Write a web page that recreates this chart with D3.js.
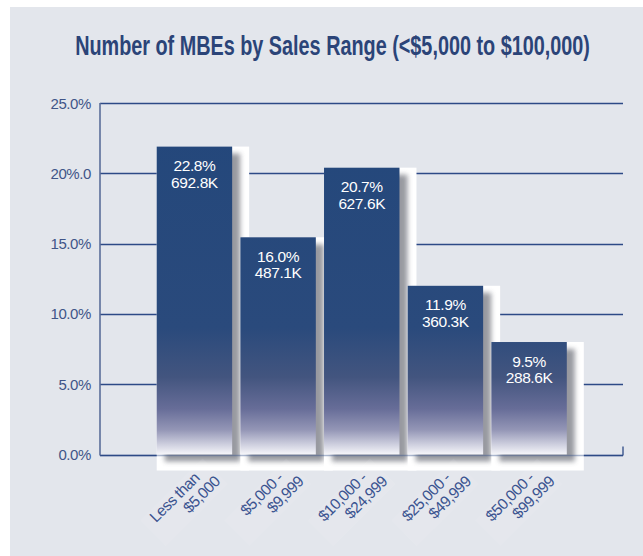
<!DOCTYPE html>
<html>
<head>
<meta charset="utf-8">
<script src="https://cdn.jsdelivr.net/npm/d3@7"></script>
<style>
  html, body { margin: 0; padding: 0; background: #ffffff; }
  svg { display: block; }
  text { font-family: "Liberation Sans", Arial, sans-serif; }
</style>
</head>
<body>
<div id="chart"></div>
<script>
// ---- data ----
const title = "Number of MBEs by Sales Range (<$5,000 to $100,000)";
const categoryLine1 = ["Less than", "$5,000 -", "$10,000 -", "$25,000 -", "$50,000 -"];
const categoryLine2 = ["$5,000", "$9,999", "$24,999", "$49,999", "$99,999"];
const barHeights = [21.9, 15.45, 20.4, 12.0, 8.0];          // drawn bar heights (%)
const pctLabels = ["22.8%", "16.0%", "20.7%", "11.9%", "9.5%"];
const countLabels = ["692.8K", "487.1K", "627.6K", "360.3K", "288.6K"];
const yTickValues = [0, 5, 10, 15, 20, 25];
const yTickLabels = ["0.0%", "5.0%", "10.0%", "15.0%", "20%.0", "25.0%"];

// ---- layout ----
const W = 643, H = 556;
const svg = d3.select("#chart").append("svg").attr("width", W).attr("height", H);
const defs = svg.append("defs");

svg.append("rect").attr("x", 10).attr("y", 7).attr("width", W - 10).attr("height", H - 7)
  .attr("fill", "#e3e6ec");

const y = d3.scaleLinear().domain([0, 25]).range([454.5, 103]);
const x = d3.scaleBand().domain(d3.range(barHeights.length)).range([156.7, 566.8])
  .paddingInner(0.098).paddingOuter(0);
const axisX = 100, gridEnd = 623;

// gradient (absolute, so fade lives near the base)
const grad = defs.append("linearGradient").attr("id", "barGrad")
  .attr("gradientUnits", "userSpaceOnUse").attr("x1", 0).attr("x2", 0)
  .attr("y1", y(0)).attr("y2", y(25));
[[0, "#f6f6fa"], [0.025, "#d3d4e2"], [0.07, "#9496b6"], [0.13, "#676d98"], [0.22, "#43557f"], [0.36, "#2a4a7c"], [1, "#23477b"]]
  .forEach(([o, c]) => grad.append("stop").attr("offset", o).attr("stop-color", c));

const blur = defs.append("filter").attr("id", "blur").attr("x", "-20%").attr("y", "-20%")
  .attr("width", "140%").attr("height", "140%");
blur.append("feGaussianBlur").attr("stdDeviation", 2.8);

// title: condensed bold look, scaled horizontally to the reference width
const titleG = svg.append("g");
const titleText = titleG.append("text").attr("x", 0).attr("y", 0).attr("text-anchor", "middle")
  .attr("font-weight", "bold").attr("font-size", 27).attr("fill", "#2b4478")
  .text(title);
const natural = titleText.node().getComputedTextLength();
const sx = Math.min(1, 515 / natural);
titleG.attr("transform", `translate(332.5,54.5) scale(${sx.toFixed(4)},1)`);

// gridlines
svg.append("g").selectAll("line").data(yTickValues).join("line")
  .attr("x1", axisX).attr("x2", gridEnd)
  .attr("y1", d => Math.round(y(d)) + 0.5).attr("y2", d => Math.round(y(d)) + 0.5)
  .attr("stroke", "#2d4a86").attr("stroke-width", 1.3);

// y axis line
svg.append("line").attr("x1", axisX).attr("x2", axisX).attr("y1", y(25)).attr("y2", y(0) + 1)
  .attr("stroke", "#5b6e9a").attr("stroke-width", 1.6);
svg.append("line").attr("x1", gridEnd).attr("x2", gridEnd).attr("y1", y(0) - 8).attr("y2", y(0) + 1)
  .attr("stroke", "#2d4a86").attr("stroke-width", 1.3);

// y tick labels
svg.append("g").selectAll("text").data(yTickValues).join("text")
  .attr("x", 91).attr("y", d => y(d) + 5.5).attr("text-anchor", "end")
  .attr("font-size", 15).attr("letter-spacing", -0.4).attr("fill", "#3f5588")
  .text((d, i) => yTickLabels[i]);

// bars
const bw = x.bandwidth();
const groups = svg.append("g").selectAll("g").data(barHeights).join("g");
groups.append("rect")
  .attr("x", (d, i) => x(i)).attr("y", d => y(d))
  .attr("width", bw + 17).attr("height", d => 470.5 - y(d))
  .attr("fill", "#ffffff");
groups.append("rect")
  .attr("x", (d, i) => x(i) + 8).attr("y", d => y(d) + 7)
  .attr("width", bw).attr("height", d => y(0) - y(d))
  .attr("fill", "#8d8f96").attr("opacity", 0.9).attr("filter", "url(#blur)");
groups.append("rect")
  .attr("x", (d, i) => x(i)).attr("y", d => y(d))
  .attr("width", bw).attr("height", d => y(0) - y(d))
  .attr("fill", "url(#barGrad)");

// baseline over bars (faint)
svg.append("line").attr("x1", axisX).attr("x2", gridEnd)
  .attr("y1", Math.round(y(0)) + 0.5).attr("y2", Math.round(y(0)) + 0.5)
  .attr("stroke", "#2d4a86").attr("stroke-opacity", 0.4).attr("stroke-width", 1.3);

// value labels
groups.append("text").attr("x", (d, i) => x(i) + bw / 2).attr("y", d => y(d) + 24.5)
  .attr("text-anchor", "middle").attr("font-size", 15.5).attr("letter-spacing", -0.4)
  .attr("fill", "#ffffff").text((d, i) => pctLabels[i]);
groups.append("text").attr("x", (d, i) => x(i) + bw / 2).attr("y", d => y(d) + 41)
  .attr("text-anchor", "middle").attr("font-size", 15.5).attr("letter-spacing", -0.4)
  .attr("fill", "#ffffff").text((d, i) => countLabels[i]);

// category labels (rotated)
const lab = svg.append("g").selectAll("g").data(categoryLine1).join("g")
  .attr("transform", (d, i) => `translate(${x(i) + bw / 2 + 6},${479}) rotate(-45)`);
lab.append("rect").attr("x", -72).attr("y", -13).attr("width", 88).attr("height", 36)
  .attr("fill", "#ffffff").attr("opacity", 0.07);
lab.append("text").attr("x", 0).attr("y", 0).attr("text-anchor", "end")
  .attr("font-size", 15.5).attr("letter-spacing", -0.5).attr("fill", "#3a5390")
  .text(d => d);
lab.append("text").attr("x", 12).attr("y", 17).attr("text-anchor", "end")
  .attr("font-size", 15.5).attr("letter-spacing", -0.5).attr("fill", "#3a5390")
  .text((d, i) => categoryLine2[i]);
</script>
</body>
</html>
